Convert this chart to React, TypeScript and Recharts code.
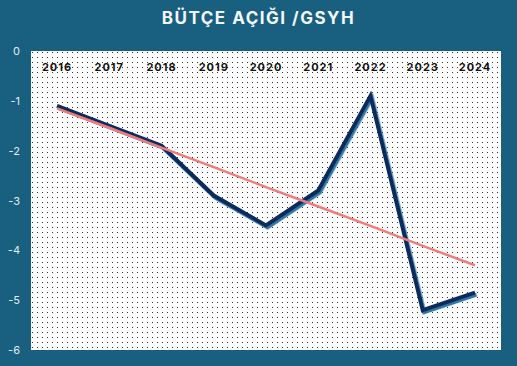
import { LineChart, Line, XAxis, YAxis, CartesianGrid } from "recharts";

const years = ["2016", "2017", "2018", "2019", "2020", "2021", "2022", "2023", "2024"];
const deficit = [-1.1, -1.5, -1.9, -2.9, -3.5, -2.8, -0.9, -5.2, -4.85];
const trend = [-1.15, -1.54, -1.94, -2.33, -2.73, -3.12, -3.51, -3.91, -4.3];
const yTicks = [0, -1, -2, -3, -4, -5, -6];

const data = years.map((y, i) => ({ year: y, deficit: deficit[i], trend: trend[i] }));

const BG = "#185f80";

const YearTick = ({ x, payload }: any) => (
  <text
    x={x}
    y={71}
    textAnchor="middle"
    fill="#111"
    fontSize={11}
    fontWeight={700}
    letterSpacing={1}
    fontFamily="Inter, sans-serif"
  >
    {payload.value}
  </text>
);

const ValueTick = ({ y, payload }: any) => (
  <text x={20} y={y + 4} textAnchor="end" fill="#e4edf2" fontSize={11} fontFamily="Inter, sans-serif">
    {payload.value}
  </text>
);

export default function App() {
  return (
    <div style={{ position: "absolute", left: 0, top: 0, width: 517, height: 366, background: BG }}>
      <div
        style={{
          position: "absolute",
          top: 8,
          width: 517,
          textAlign: "center",
          color: "#f4f7f9",
          fontFamily: "Inter, sans-serif",
          fontWeight: 700,
          fontSize: 17,
          letterSpacing: 1.5,
        }}
      >
        BÜTÇE AÇIĞI /GSYH
      </div>
      <LineChart width={517} height={366} data={data} margin={{ top: 31, right: 16, bottom: 16, left: 0 }}>
        <defs>
          <pattern id="dots" x="0" y="0" width="5" height="5" patternUnits="userSpaceOnUse">
            <rect width="5" height="5" fill="#ffffff" />
            <rect x="2" y="2" width="1" height="1" fill="#333" />
          </pattern>
          <filter id="shadow" x="-10%" y="-10%" width="120%" height="120%">
            <feDropShadow dx="1.5" dy="2" stdDeviation="0.3" floodColor="#2f78a8" floodOpacity="1" />
          </filter>
        </defs>
        <CartesianGrid horizontal={false} vertical={false} fill="url(#dots)" stroke="#dfe8ee" />
        <XAxis
          dataKey="year"
          orientation="top"
          height={20}
          axisLine={false}
          tickLine={false}
          interval={0}
          padding={{ left: 26, right: 26 }}
          tick={<YearTick />}
        />
        <YAxis
          width={31}
          domain={[-6, 0]}
          ticks={yTicks}
          axisLine={false}
          tickLine={false}
          tick={<ValueTick />}
        />
        <Line
          dataKey="deficit"
          stroke="#0b2a5c"
          strokeWidth={4}
          dot={false}
          filter="url(#shadow)"
          isAnimationActive={false}
        />
        <Line dataKey="trend" stroke="#f27c7c" strokeWidth={2.5} dot={false} isAnimationActive={false} />
      </LineChart>
    </div>
  );
}
